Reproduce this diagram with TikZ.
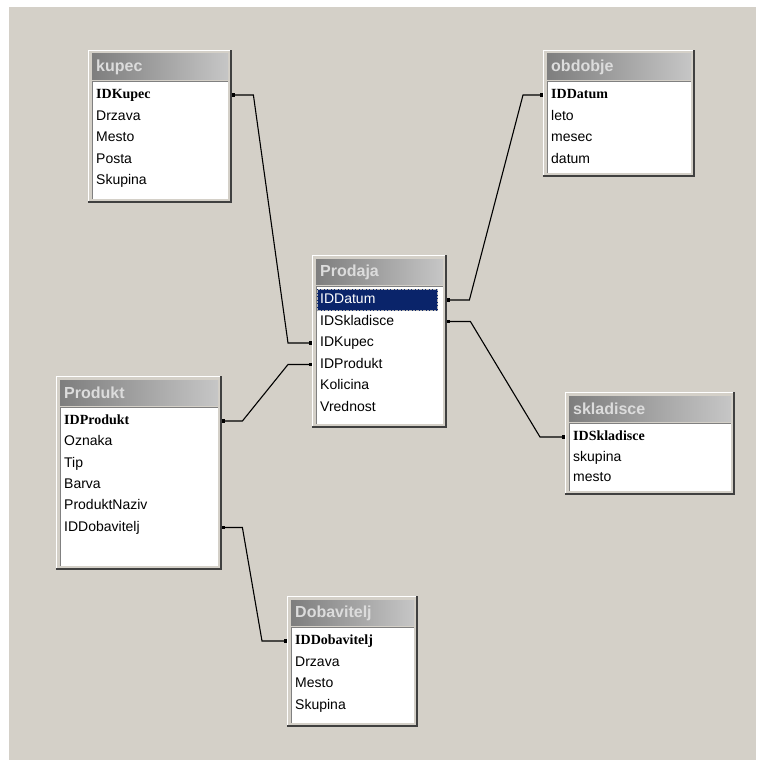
\documentclass[tikz,border=0pt]{standalone}
\usepackage{fontspec}
\setmainfont{Liberation Sans}
\newfontfamily\keyfont{Liberation Serif}
\usetikzlibrary{arrows.meta,calc}
\definecolor{Desk}{HTML}{D4D0C8}
\definecolor{Shadow}{HTML}{404040}
\definecolor{Edge}{HTML}{808080}
\definecolor{TitleA}{HTML}{7E7E7E}
\definecolor{TitleB}{HTML}{C6C6C6}
\definecolor{TitleText}{HTML}{DCDCDC}
\definecolor{SelBlue}{HTML}{0A246A}
\tikzset{
 row/.style={anchor=west, inner xsep=8pt, inner ysep=0pt, text width=#1, align=left, text height=10pt, text depth=3pt, font=\fontsize{14}{16}\selectfont},
 keyrow/.style={row=#1, font=\keyfont\bfseries\fontsize{14}{16}\selectfont},
 selrow/.style={row=#1, text=white},
 tabletitle/.style={anchor=west, inner sep=0pt, text=TitleText, font=\bfseries\fontsize{16}{18}\selectfont},
 rel/.style={draw=black, line width=1.1pt, {Square[length=3pt,width=3.5pt]}-{Square[length=3pt,width=3.5pt]}}
}
% window frame of one table: x1, y1, x2, y2
\newcommand{\dbframe}[4]{%
 \fill[Desk] (#1,#2) rectangle (#3,#4);
 \draw[white, line width=1.2pt] (#1+0.6,#4) -- (#1+0.6,#2+0.6) -- (#3,#2+0.6);
 \draw[Shadow, line width=2pt] (#1,#4-1) -- (#3-1,#4-1) -- (#3-1,#2);
 \shade[left color=TitleA, right color=TitleB] (#1+4,#2+4) rectangle (#3-4,#2+29);
 \fill[white] (#1+4,#2+31) rectangle (#3-4,#4-4);
 \draw[Edge, line width=1.2pt] (#1+4.6,#4-4) -- (#1+4.6,#2+31.6) -- (#3-4,#2+31.6);
}

\begin{document}
\begin{tikzpicture}[x=1pt,y=-1pt]
\useasboundingbox (0,0) rectangle (756,760);
\fill[white] (0,0) rectangle (756,760);
\fill[Desk] (9,7) rectangle (756,760);

% kupec
\dbframe{88}{50}{232}{203}
\node[tabletitle] (kupec) at (96,67) {kupec};
\node[keyrow=128pt] (kupec0) at (88,95) {IDKupec};
\foreach \t [count=\i] in {Drzava,Mesto,Posta,Skupina}
  \node[row=128pt] (kupec\i) at (88,95+21.5*\i) {\t};

% obdobje
\dbframe{543}{50}{695}{177}
\node[tabletitle] (obdobje) at (551,67) {obdobje};
\node[keyrow=136pt] (obdobje0) at (543,95) {IDDatum};
\foreach \t [count=\i] in {leto,mesec,datum}
  \node[row=136pt] (obdobje\i) at (543,95+21.5*\i) {\t};

% Prodaja
\dbframe{312}{255}{447}{428}
\node[tabletitle] (prodaja) at (320,272) {Prodaja};
\fill[SelBlue] (317,289) rectangle (438,311);
\draw[Edge!60!white, densely dotted] (317.5,289.5) rectangle (437.5,310.5);
\node[selrow=119pt] (prodaja0) at (312,300) {IDDatum};
\foreach \t [count=\i] in {IDSkladisce,IDKupec,IDProdukt,Kolicina,Vrednost}
  \node[row=119pt] (prodaja\i) at (312,300+21.5*\i) {\t};

% Produkt
\dbframe{56}{376}{222}{570}
\node[tabletitle] (produkt) at (64,393) {Produkt};
\node[keyrow=150pt] (produkt0) at (56,421) {IDProdukt};
\foreach \t [count=\i] in {Oznaka,Tip,Barva,ProduktNaziv,IDDobavitelj}
  \node[row=150pt] (produkt\i) at (56,421+21.3*\i) {\t};

% Dobavitelj
\dbframe{287}{596}{418}{727}
\node[tabletitle] (dobavitelj) at (295,613) {Dobavitelj};
\node[keyrow=115pt] (dobavitelj0) at (287,641) {IDDobavitelj};
\foreach \t [count=\i] in {Drzava,Mesto,Skupina}
  \node[row=115pt] (dobavitelj\i) at (287,641+21.5*\i) {\t};

% skladisce
\dbframe{565}{392}{735}{495}
\node[tabletitle] (skladisce) at (573,409) {skladisce};
\node[keyrow=154pt] (skladisce0) at (565,437) {IDSkladisce};
\foreach \t [count=\i] in {skupina,mesto}
  \node[row=154pt] (skladisce\i) at (565,437+20.5*\i) {\t};

% relations
\draw[rel] (kupec0.east) -- ++(21,0) -- ($(prodaja2.west)+(-24,0)$) -- (prodaja2.west);
\draw[rel] (obdobje0.west) -- ++(-20,0) -- ($(prodaja0.east)+(22,0)$) -- (prodaja0.east);
\draw[rel] (prodaja1.east) -- ++(23,0) -- ($(skladisce0.west)+(-25,0)$) -- (skladisce0.west);
\draw[rel] (produkt0.east) -- ++(20,0) -- ($(prodaja3.west)+(-24,0)$) -- (prodaja3.west);
\draw[rel] (produkt5.east) -- ++(20,0) -- ($(dobavitelj0.west)+(-25,0)$) -- (dobavitelj0.west);
\end{tikzpicture}
\end{document}
